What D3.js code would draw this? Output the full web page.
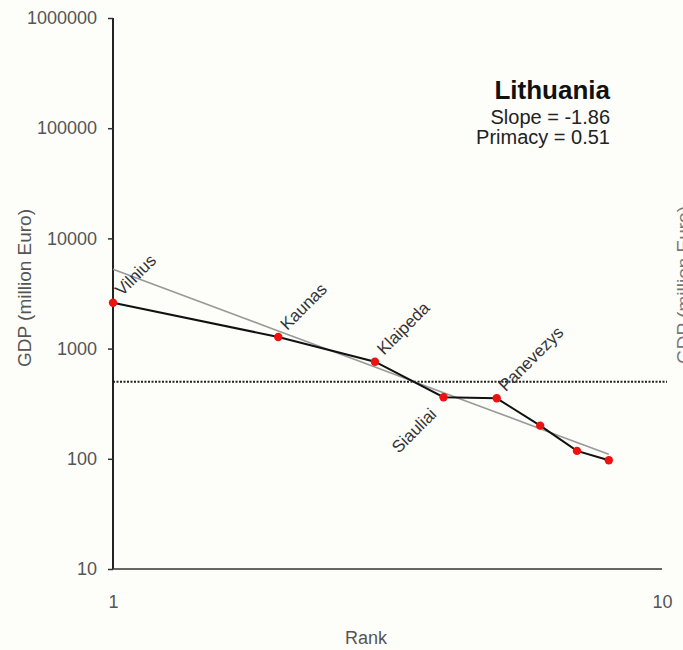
<!DOCTYPE html>
<html>
<head>
<meta charset="utf-8">
<script src="https://cdn.jsdelivr.net/npm/d3@7"></script>
<style>
  html, body { margin: 0; padding: 0; background: #fdfdfa; }
  svg { display: block; font-family: Arial, "Liberation Sans", sans-serif; }
</style>
</head>
<body>
<svg id="chart" width="683" height="650"></svg>
<script>
// Data
const ranks = [1, 2, 3, 4, 5, 6, 7, 8];
const gdp = [2610, 1275, 760, 362, 354, 200, 118, 97];
const cityNames = ["Vilnius", "Kaunas", "Klaipeda", "Siauliai", "Panevezys"];
const cityLabelBelow = [false, false, false, true, false];
const yTicks = [10, 100, 1000, 10000, 100000, 1000000];
const xTicks = [1, 10];
const trendIntercept = 5250;
const trendSlope = -1.86;
const thresholdValue = 500;
const countryName = "Lithuania";
const statLines = ["Slope = -1.86", "Primacy = 0.51"];

const svg = d3.select("#chart");
const x = d3.scaleLog().domain([1, 10]).range([113, 662]);
const y = d3.scaleLog().domain([10, 1000000]).range([569, 18]);

// Axes
const yAxis = d3.axisLeft(y).tickValues(yTicks).tickFormat(d3.format("d")).tickSize(5).tickPadding(11);
const gy = svg.append("g").attr("transform", `translate(${x(1)},0)`).call(yAxis);
gy.select(".domain").attr("stroke", "#222").attr("stroke-width", 2).attr("d", `M0,${y(1000000)}V${y(10)}`);
gy.selectAll(".tick line").attr("stroke", "#333").attr("stroke-width", 1.5);
gy.selectAll(".tick text").attr("fill", "#555").attr("font-size", 18);

const xAxis = d3.axisBottom(x).tickValues(xTicks).tickFormat(d3.format("d")).tickSize(0).tickPadding(26);
const gx = svg.append("g").attr("transform", `translate(0,${y(10)})`).call(xAxis);
gx.select(".domain").attr("stroke", "#333").attr("stroke-width", 1.5).attr("d", `M${x(1)},0H${x(10)}`);
gx.selectAll(".tick text").attr("fill", "#555").attr("font-size", 18);

// Axis titles
svg.append("text").attr("x", 366).attr("y", 644).attr("text-anchor", "middle")
  .attr("fill", "#555").attr("font-size", 18).text("Rank");
svg.append("text").attr("transform", "translate(31,288) rotate(-90)").attr("text-anchor", "middle")
  .attr("fill", "#555").attr("font-size", 19).text("GDP (million Euro)");

// neighbouring chart fragment on the right edge
svg.append("text").attr("transform", "translate(690,285) rotate(-90)").attr("text-anchor", "middle")
  .attr("fill", "#777").attr("font-size", 19).text("GDP (million Euro)");

// Threshold dotted line
svg.append("line")
  .attr("x1", x(1)).attr("x2", x(10) + 5)
  .attr("y1", y(thresholdValue)).attr("y2", y(thresholdValue))
  .attr("stroke", "#222").attr("stroke-width", 2).attr("stroke-dasharray", "2,1.5");

// Trend line
const trendData = ranks.map(r => [r, trendIntercept * Math.pow(r, trendSlope)]);
svg.append("path")
  .datum(trendData)
  .attr("fill", "none").attr("stroke", "#999").attr("stroke-width", 1.6)
  .attr("d", d3.line().x(d => x(d[0])).y(d => y(d[1])));

// Data line
const data = ranks.map((r, i) => ({ r, v: gdp[i] }));
svg.append("path")
  .datum(data)
  .attr("fill", "none").attr("stroke", "#111").attr("stroke-width", 2)
  .attr("d", d3.line().x(d => x(d.r)).y(d => y(d.v)));

// Points
svg.selectAll("circle.pt").data(data).enter().append("circle")
  .attr("class", "pt")
  .attr("cx", d => x(d.r)).attr("cy", d => y(d.v)).attr("r", 4.2)
  .attr("fill", "#ee1111");

// City labels
cityNames.forEach((name, i) => {
  const px = x(ranks[i]), py = y(gdp[i]);
  const below = cityLabelBelow[i];
  svg.append("text")
    .attr("transform", below
      ? `translate(${px - 6},${py + 18}) rotate(-45)`
      : `translate(${px + 9},${py - 6}) rotate(-45)`)
    .attr("text-anchor", below ? "end" : "start")
    .attr("fill", "#333").attr("font-size", 17)
    .text(name);
});

// Annotation
svg.append("text").attr("x", 610).attr("y", 99).attr("text-anchor", "end")
  .attr("font-weight", "bold").attr("font-size", 26).attr("fill", "#111").text(countryName);
statLines.forEach((t, i) => {
  svg.append("text").attr("x", 610).attr("y", 124 + i * 20).attr("text-anchor", "end")
    .attr("font-size", 20).attr("fill", "#222").text(t);
});
</script>
</body>
</html>
